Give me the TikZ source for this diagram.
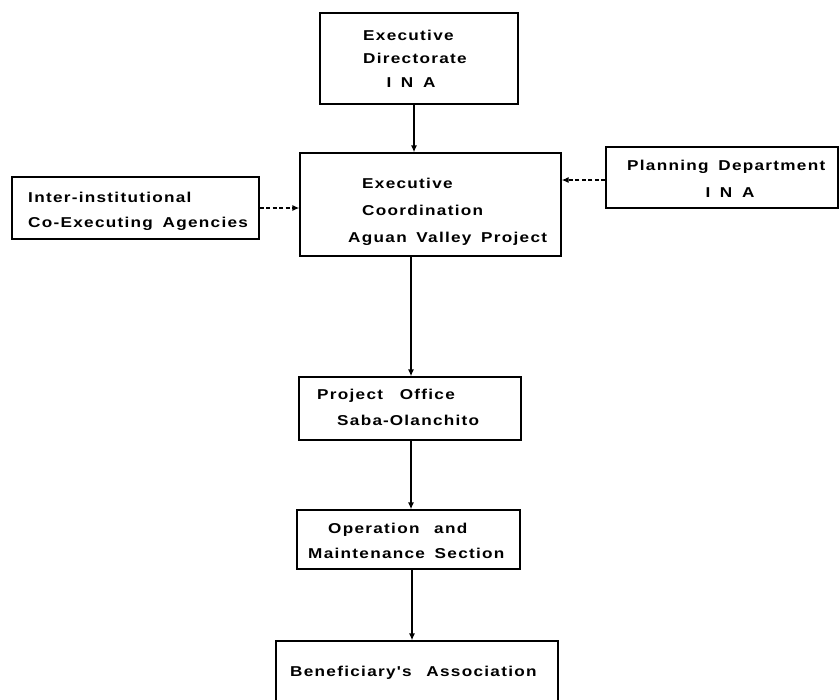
\documentclass[tikz,border=0pt]{standalone}
\usepackage{fontspec}
\newfontfamily\lbl[FakeStretch=1.2,LetterSpace=9,WordSpace=1.6]{Liberation Sans}
\usetikzlibrary{arrows.meta}
\tikzset{
  box/.style={draw, line width=1.3pt, inner sep=0pt, rectangle},
  txt/.style={font=\lbl\bfseries\fontsize{14.3}{16}\selectfont, inner sep=0pt, text height=10pt, text depth=0pt},
  arr/.style={line width=1.3pt, -{Latex[length=7pt,width=6pt]}},
  darr/.style={arr, dash pattern=on 4pt off 2.5pt},
}
\begin{document}
\begin{tikzpicture}[x=1pt,y=-1pt]
\useasboundingbox (0,0) rectangle (840,699);
\clip (0,0) rectangle (840,699);
\fill[white] (0,0) rectangle (840,699);
% boxes
\node[box, minimum width=198pt, minimum height=91pt] (dir) at (419,58.5) {};
\node[box, minimum width=261pt, minimum height=103pt] (coord) at (430.5,204.5) {};
\node[box, minimum width=247pt, minimum height=62pt] (inter) at (135.5,208) {};
\node[box, minimum width=232pt, minimum height=61pt] (plan) at (722,177.5) {};
\node[box, minimum width=222pt, minimum height=63pt] (proj) at (410,408.5) {};
\node[box, minimum width=223pt, minimum height=59pt] (oper) at (408.5,539.5) {};
\node[box, minimum width=282pt, minimum height=69pt] (bene) at (417,675.5) {};
% texts
\node[txt, anchor=west] (dirA) at (363,35) {Executive};
\node[txt, anchor=west] (dirB) at (363,58) {Directorate};
\node[txt] (dirC) at (411,82) {I N A};
\node[txt, anchor=west] (coordA) at (362,183) {Executive};
\node[txt, anchor=west] (coordB) at (362,210) {Coordination};
\node[txt, anchor=west] (coordC) at (348,237) {Aguan Valley Project};
\node[txt, anchor=west] (interA) at (28,197) {Inter-institutional};
\node[txt, anchor=west] (interB) at (28,222) {Co-Executing Agencies};
\node[txt, anchor=west] (planA) at (627,165) {Planning Department};
\node[txt] (planB) at (730,192) {I N A};
\node[txt, anchor=west] (projA) at (317,394) {Project\hspace{7pt} Office};
\node[txt, anchor=west] (projB) at (337,420) {Saba\kern1pt-\kern1pt Olanchito};
\node[txt, anchor=west] (operA) at (328,528) {Operation\hspace{5pt} and};
\node[txt, anchor=west] (operB) at (308,553) {Maintenance Section};
\node[txt, anchor=west] (beneA) at (290,671) {Beneficiary's\hspace{5pt} Association};
% connectors
\draw[arr] ([xshift=-5pt]dir.south) -- ([xshift=-5pt]dir.south |- coord.north);
\draw[arr] ([xshift=-19.5pt]coord.south) -- ([xshift=-19.5pt]coord.south |- proj.north);
\draw[arr] ([xshift=1pt]proj.south) -- ([xshift=1pt]proj.south |- oper.north);
\draw[arr] ([xshift=3.5pt]oper.south) -- ([xshift=3.5pt]oper.south |- bene.north);
\draw[darr] (inter.east) -- (inter.east -| coord.west);
\draw[darr] ([yshift=-2.5pt]plan.west) -- ([yshift=-2.5pt]plan.west -| coord.east);
\end{tikzpicture}
\end{document}
